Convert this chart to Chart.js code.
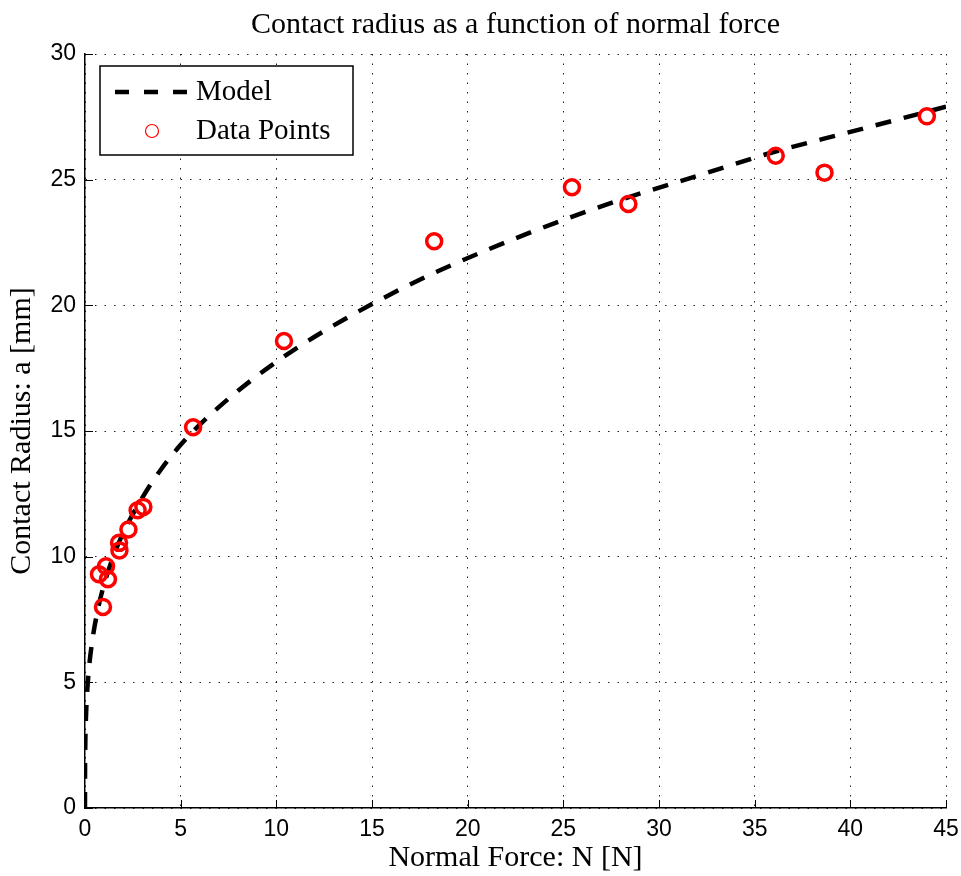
<!DOCTYPE html>
<html><head><meta charset="utf-8">
<script src="https://cdn.jsdelivr.net/npm/chart.js@4/dist/chart.umd.min.js"></script>
<style>html,body{margin:0;padding:0;background:#fff}canvas{display:block}</style>
</head><body>
<canvas id="c" width="961" height="876"></canvas>
<script>
// Measured data points (Normal force N [N], contact radius a [mm])
const dataForce  = [0.94, 0.73, 1.10, 1.20, 1.80, 1.78, 2.27, 2.75, 3.05, 5.65, 10.4, 18.25, 25.45, 28.4, 36.1, 38.65, 44.0];
const dataRadius = [8.00, 9.30, 9.62, 9.10, 10.25, 10.55, 11.08, 11.85, 11.98, 15.15, 18.58, 22.55, 24.70, 24.03, 25.95, 25.28, 27.52];

// Model curve
const modelForce  = [0, 0.001, 0.005, 0.02, 0.05, 0.1, 0.2, 0.4, 0.7, 1, 1.5, 2, 3, 4, 5, 6, 8, 10, 12, 15, 18, 21, 25, 28, 32, 36, 40, 45];
const modelRadius = [0, 1.1, 1.8, 2.75, 3.6, 4.45, 5.5, 6.75, 8.0, 8.9, 10.05, 10.95, 12.35, 13.5, 14.45, 15.25, 16.6, 17.75, 18.75, 20.05, 21.2, 22.2, 23.4, 24.2, 25.15, 26.1, 26.9, 27.9];

const xTickValues = [0, 5, 10, 15, 20, 25, 30, 35, 40, 45];
const yTickValues = [0, 5, 10, 15, 20, 25, 30];

const titleText = 'Contact radius as a function of normal force';
const xTitle = 'Normal Force: N [N]';
const yTitle = 'Contact Radius: a [mm]';
const modelLabel = 'Model';
const dataLabel = 'Data Points';

const SERIF = "'Liberation Serif', 'DejaVu Serif', serif";
const SANS = "'Liberation Sans', Arial, sans-serif";

const modelPts = modelForce.map((x, i) => ({x, y: modelRadius[i]}));
const dataPts = dataForce.map((x, i) => ({x, y: dataRadius[i]}));

const decor = {
  id: 'decor',
  afterDraw(chart) {
    const ctx = chart.ctx, ca = chart.chartArea;
    const xs = chart.scales.x, ys = chart.scales.y;
    ctx.save();
    // title
    ctx.fillStyle = '#000';
    ctx.font = '30px ' + SERIF;
    ctx.textAlign = 'center';
    ctx.textBaseline = 'middle';
    ctx.fillText(titleText, (ca.left + ca.right) / 2, 25);
    // inward ticks
    ctx.strokeStyle = '#000';
    ctx.lineWidth = 1;
    ctx.setLineDash([]);
    xTickValues.forEach(v => {
      const px = Math.round(xs.getPixelForValue(v)) + 0.5;
      ctx.beginPath(); ctx.moveTo(px, ca.bottom); ctx.lineTo(px, ca.bottom - 8); ctx.stroke();
    });
    yTickValues.forEach(v => {
      const py = Math.round(ys.getPixelForValue(v)) + 0.5;
      ctx.beginPath(); ctx.moveTo(ca.left, py); ctx.lineTo(ca.left + 8, py); ctx.stroke();
    });
    // legend
    const bx = 100, by = 66, bw = 253, bh = 89;
    ctx.fillStyle = '#fff';
    ctx.fillRect(bx, by, bw, bh);
    ctx.lineWidth = 1.5;
    ctx.strokeStyle = '#000';
    ctx.strokeRect(bx, by, bw, bh);
    const ds0 = chart.data.datasets[0], ds1 = chart.data.datasets[1];
    ctx.lineWidth = 4.5;
    ctx.setLineDash([14, 15]);
    ctx.beginPath(); ctx.moveTo(115, 92); ctx.lineTo(190, 92); ctx.stroke();
    ctx.setLineDash([]);
    ctx.lineWidth = 1.2;
    ctx.strokeStyle = '#ff0000';
    ctx.beginPath(); ctx.arc(152, 131, 6.5, 0, Math.PI * 2); ctx.stroke();
    ctx.fillStyle = '#000';
    ctx.font = '29px ' + SERIF;
    ctx.textAlign = 'left';
    ctx.textBaseline = 'middle';
    ctx.fillText(ds0.label, 196, 92);
    ctx.fillText(ds1.label, 196, 131);
    ctx.restore();
  }
};

new Chart(document.getElementById('c'), {
  data: {
    datasets: [
      {
        type: 'line', label: modelLabel, data: modelPts,
        borderColor: '#000', borderWidth: 4.5, borderDash: [16, 13],
        pointRadius: 0, fill: false, cubicInterpolationMode: 'monotone', order: 2
      },
      {
        type: 'scatter', label: dataLabel, data: dataPts,
        borderColor: '#ff0000', backgroundColor: 'rgba(0,0,0,0)',
        pointRadius: 7.5, borderWidth: 3.5, showLine: false, order: 1
      }
    ]
  },
  options: {
    responsive: false,
    animation: false,
    devicePixelRatio: 1,
    layout: { padding: { top: 54, right: 15, left: 0, bottom: 0 } },
    plugins: { legend: { display: false }, title: { display: false }, tooltip: { enabled: false } },
    scales: {
      x: {
        type: 'linear', min: 0, max: 45,
        afterFit(s) { s.height = 68; s.paddingLeft = 0; s.paddingRight = 0; },
        afterBuildTicks(s) { s.ticks = xTickValues.map(v => ({value: v})); },
        ticks: { color: '#000', font: { family: SANS, size: 23 }, padding: 8, maxRotation: 0 },
        grid: { color: '#222', lineWidth: 1, drawTicks: false },
        border: { display: true, color: '#000', width: 1.5, dash: [1.5, 8] },
        title: { display: true, text: xTitle, color: '#000', font: { family: SERIF, size: 30 }, padding: { top: 0, bottom: 0 } }
      },
      y: {
        type: 'linear', min: 0, max: 30,
        afterFit(s) { s.width = 85; s.paddingTop = 0; s.paddingBottom = 0; },
        afterBuildTicks(s) { s.ticks = yTickValues.map(v => ({value: v})); },
        ticks: { color: '#000', font: { family: SANS, size: 23 }, padding: 9 },
        grid: { color: '#222', lineWidth: 1, drawTicks: false },
        border: { display: true, color: '#000', width: 1.5, dash: [1.5, 8] },
        title: { display: true, text: yTitle, color: '#000', font: { family: SERIF, size: 30 }, padding: { top: 4, bottom: 0 } }
      }
    }
  },
  plugins: [decor]
});
</script>
</body></html>
